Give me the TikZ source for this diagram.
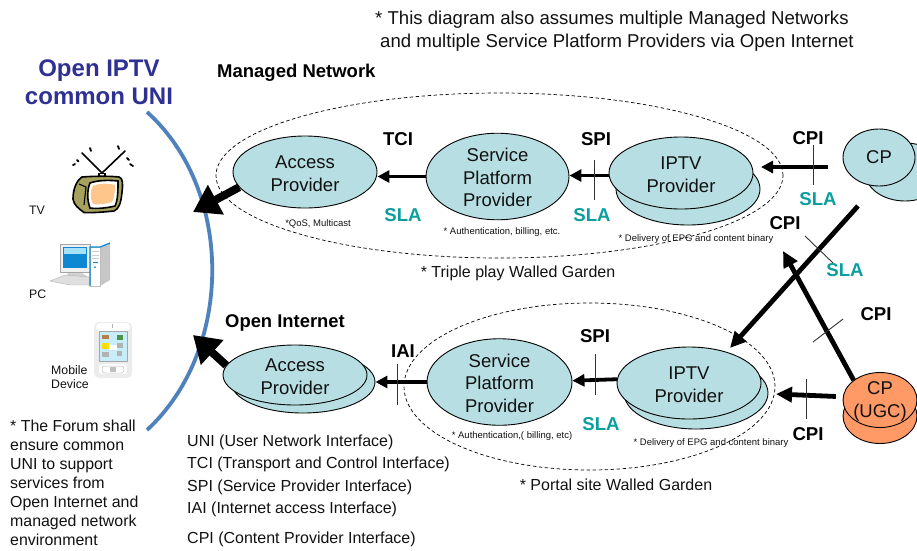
\documentclass[tikz,border=0pt]{standalone}
\usepackage{fontspec}
\setmainfont{Liberation Sans}
\usetikzlibrary{arrows.meta,shapes.geometric}
\definecolor{pfill}{HTML}{B7DFE3}
\definecolor{ugcfill}{HTML}{FF9966}
\definecolor{slac}{HTML}{0A9E9E}
\definecolor{titlec}{HTML}{2E3192}
\definecolor{arcc}{HTML}{4F81BD}
\definecolor{txt}{HTML}{111111}
\newcommand{\fsz}[1]{\fontsize{#1}{#1}\selectfont}
\newcommand{\dn}{\rule{0pt}{16pt}}
\tikzset{
  prov/.style={ellipse,draw=black,line width=0.9pt,fill=pfill,inner sep=0pt,align=center,text=txt,
    font=\fontsize{18.5}{22.5}\selectfont},
  orangep/.style={prov,fill=ugcfill},
  garden/.style={ellipse,draw=black,line width=0.7pt,dash pattern=on 3.5pt off 2.5pt,inner sep=0pt},
  iface/.style={font=\fontsize{18.6}{20}\bfseries\selectfont,text=black,inner sep=0pt},
  sla/.style={iface,text=slac},
  tiny/.style={font=\fsz{9.5},text=txt,inner sep=0pt},
  midtxt/.style={font=\fsz{16},text=txt,inner sep=0pt},
  legend/.style={font=\fsz{16},text=txt,inner sep=0pt,anchor=base west},
  notetxt/.style={font=\fsz{15.9},text=txt,inner sep=0pt,anchor=base west},
  devlabel/.style={font=\fsz{12.3},text=txt,inner sep=0pt,anchor=base west},
  flow/.style={line width=3.8pt,-{Triangle[length=12pt,width=12pt]}},
  heavy/.style={line width=4.8pt,-{Triangle[length=16pt,width=15pt]}},
  huge/.style={line width=8pt,-{Triangle[length=26pt,width=32pt]}},
  tick/.style={line width=0.9pt,black!80},
}
\begin{document}
\begin{tikzpicture}[x=1pt,y=-1pt]
\useasboundingbox (0,0) rectangle (917,550);
% arc
\draw[arcc,line width=3.8pt] (147,112) .. controls (234,190) and (234,350) .. (147,430);
% titles
\node[font=\fontsize{24}{28}\bfseries\selectfont,text=titlec,align=center,inner sep=0pt] (title) at (99,82) {Open IPTV\\common UNI};
\node[font=\fsz{18.5}\bfseries,inner sep=0pt,anchor=base west] (mn) at (217,77) {Managed Network};
\node[font=\fsz{18.4}\bfseries,inner sep=0pt,anchor=base west] (oi) at (225,327) {Open Internet};
\node[font=\fsz{18.6},text=txt,inner sep=0pt,anchor=base west] (n1) at (375,24) {* This diagram also assumes multiple Managed Networks};
\node[font=\fsz{18.6},text=txt,inner sep=0pt,anchor=base west] (n2) at (380,47) {and multiple Service Platform Providers via Open Internet};
% gardens
\node[garden,minimum width=567pt,minimum height=165pt] (g1) at (499.5,175.5) {};
\node[garden,minimum width=371pt,minimum height=167pt] (g2) at (589.5,386.5) {};
% top row
\node[prov,minimum width=144pt,minimum height=72pt] (ap1) at (305,172) {\dn Access\\Provider};
\node[prov,minimum width=143pt,minimum height=80pt] (sp1) at (497.5,176.5) {\dn Service\\Platform\\Provider};
\node[prov,minimum width=144pt,minimum height=72pt] (ip1b) at (688,189) {};
\node[prov,minimum width=144pt,minimum height=72pt] (ip1) at (681,173) {\dn IPTV\\Provider};
\node[prov,minimum width=80pt,minimum height=58pt] (cp1b) at (905,172) {};
\node[prov,minimum width=72pt,minimum height=57pt] (cp1) at (879,157.5) {CP};
% bottom row
\node[prov,minimum width=144pt,minimum height=62pt] (ap2b) at (303,382) {};
\node[prov,minimum width=144pt,minimum height=60pt] (ap2) at (295,375) {\dn Access\\Provider};
\node[prov,minimum width=145pt,minimum height=80pt] (sp2) at (499.5,382) {\dn Service\\Platform\\Provider};
\node[prov,minimum width=144pt,minimum height=72pt] (ip2b) at (696,393) {};
\node[prov,minimum width=144pt,minimum height=72pt] (ip2) at (689,383) {\dn IPTV\\Provider};
\node[orangep,minimum width=74pt,minimum height=55pt] (ugcb) at (880,416) {};
\node[orangep,minimum width=74pt,minimum height=55pt] (ugc) at (880,400) {};
\node[align=center,text=txt,inner sep=0pt,font=\fontsize{18.5}{23}\selectfont] (ugct) at (880,401.5) {CP\\(UGC)};
% free ends
\coordinate (tvtip) at (193,212);
\coordinate (pctip) at (193,335);
\coordinate (cpstart) at (858,206);
\coordinate (ip2tip) at (730,348);
\coordinate (cp1tip) at (783,251);
\coordinate (ugctip) at (776,394);
\coordinate (cptip) at (761,167);
\coordinate (cpend) at (828,167);
% connectors
\draw[huge] (ap1.193) -- (tvtip);
\draw[huge] (ap2.172) -- (pctip);
\draw[flow] (sp1.west) -- (sp1.west -| ap1.east);
\draw[flow] (ip1.182) -- (ip1.182 -| sp1.east);
\draw[flow] (cpend) -- (cptip);
\draw[flow] (sp2.180) -- (sp2.180 -| ap2b.east);
\draw[flow] (ip2.177) -- (sp2.1);
\draw[heavy] (cpstart) -- (ip2tip);
\draw[heavy] (ugc.143) -- (cp1tip);
\draw[heavy,shorten <=7pt] (ugc.175) -- (ugctip);
% ticks
\coordinate (ta1) at (813,145); \coordinate (tb1) at (813,185);
\coordinate (ta2) at (594,160); \coordinate (tb2) at (594,200);
\coordinate (ta3) at (397,364); \coordinate (tb3) at (397,405);
\coordinate (ta4) at (595,354); \coordinate (tb4) at (595,395);
\coordinate (ta5) at (806,379); \coordinate (tb5) at (806,419);
\coordinate (ta6) at (805,236); \coordinate (tb6) at (833,263);
\coordinate (ta7) at (813,342); \coordinate (tb7) at (843,319);
\foreach \i in {1,...,7} \draw[tick] (ta\i) -- (tb\i);
% interface labels
\node[iface] (l1) at (398,139) {TCI};
\node[iface] (l2) at (596,139) {SPI};
\node[iface] (l3) at (808,138) {CPI};
\node[iface] (l4) at (785,223) {CPI};
\node[iface] (l5) at (876,314) {CPI};
\node[iface] (l6) at (808,434) {CPI};
\node[iface] (l7) at (403,351) {IAI};
\node[iface] (l8) at (595,336) {SPI};
\node[sla] (s1) at (403,215) {SLA};
\node[sla] (s2) at (592,215) {SLA};
\node[sla] (s3) at (818,199) {SLA};
\node[sla] (s4) at (845,270) {SLA};
\node[sla] (s5) at (601,424) {SLA};
% small captions
\node[tiny] (c1) at (318,224) {*QoS, Multicast};
\node[tiny] (c2) at (502,232) {* Authentication, billing, etc.};
\node[tiny] (c3) at (696,239) {* Delivery of EPG and content binary};
\node[tiny] (c4) at (512,436) {* Authentication,( billing, etc)};
\node[tiny] (c5) at (711,443) {* Delivery of EPG and content binary};
\node[midtxt] (c6) at (518,273) {* Triple play Walled Garden};
\node[midtxt] (c7) at (616,485) {* Portal site Walled Garden};
% legend
\node[legend] (k1) at (187,446) {UNI (User Network Interface)};
\node[legend] (k2) at (187,468) {TCI (Transport and Control Interface)};
\node[legend] (k3) at (187,491) {SPI (Service Provider Interface)};
\node[legend] (k4) at (187,513) {IAI (Internet access Interface)};
\node[legend] (k5) at (187,543) {CPI (Content Provider Interface)};
% left note
\node[notetxt] (m1) at (10,431) {* The Forum shall};
\node[notetxt] (m2) at (10,450) {ensure common};
\node[notetxt] (m3) at (10,469) {UNI to support};
\node[notetxt] (m4) at (10,488) {services from};
\node[notetxt] (m5) at (10,507) {Open Internet and};
\node[notetxt] (m6) at (10,526) {managed network};
\node[notetxt] (m7) at (10,545) {environment};
% device labels
\node[devlabel] (d1) at (29,214) {TV};
\node[devlabel] (d2) at (29,298) {PC};
\node[devlabel] (d3) at (51,374) {Mobile};
\node[devlabel] (d4) at (51,388) {Device};
% TV icon
\draw[line width=1.6pt,line cap=round] (102,173) -- (82,153) (102,173) -- (125,151);
\draw[line width=1.8pt,line cap=round] (73,165) -- (75,164) (77,160) -- (78.5,161.5) (90,148) -- (91,151)
  (118,146) -- (119,149) (127,158) -- (129,160) (130,164) -- (133,166);
\fill[black] (98.5,173) rectangle (105.5,178.5);
\draw[line width=1.5pt,fill=white] (99,173.5) rectangle (105,178);
\draw[line width=1.6pt,fill=olive!55!gray!80!white] (82,177) .. controls (95,176) and (110,176) .. (119,177)
  .. controls (123,178) and (123,184) .. (122,192) .. controls (121,203) and (119,209) .. (114,211)
  .. controls (104,212) and (93,213) .. (84,212.5) .. controls (78,208) and (74,205) .. (73,199)
  .. controls (73,190) and (76,181) .. (82,177) -- cycle;
\draw[line width=1.6pt,fill=white] (90,183) .. controls (98,180) and (110,180) .. (118,181)
  .. controls (118,190) and (118,200) .. (115,206) .. controls (107,208) and (97,209) .. (90,208)
  .. controls (87,200) and (87,190) .. (90,183) -- cycle;
\fill[orange!45!white] (93,186) .. controls (100,183) and (108,183) .. (115,185)
  .. controls (115,192) and (114,198) .. (112,202) .. controls (106,204) and (98,205) .. (93,204)
  .. controls (90,198) and (90,191) .. (93,186) -- cycle;
\draw[line width=1.1pt] (79,184) -- (86,187) -- (84,205);
% PC icon
\fill[gray!12] (60,244) rectangle (90,272);
\draw[gray!70,line width=0.5pt] (60,244) rectangle (90,272);
\fill[cyan!70!blue] (63,247) rectangle (87,268);
\fill[cyan!35!white] (64,248) rectangle (86,254);
\fill[gray!35] (68,273) -- (82,273) -- (88,277) -- (66,277) -- cycle;
\fill[gray!25,draw=gray!60,line width=0.4pt] (50,281) -- (65,275) -- (90,277) -- (89,285) -- (70,285) -- cycle;
\fill[gray!45] (100,247) -- (110,243) -- (110,280) -- (100,286) -- cycle;
\fill[white,draw=gray!50,line width=0.4pt] (90,247) -- (100,247) -- (100,286) -- (90,286) -- cycle;
\draw[cyan!70!blue,line width=1.2pt] (90,286) -- (90,247) -- (100,247) -- (110,243);
\draw[cyan!70!blue,line width=0.8pt] (93,262) -- (98,262);
\fill[cyan!70!blue] (95,267) circle (1pt);
\draw[gray!40,line width=0.4pt] (92,251) -- (99,251) (92,255) -- (99,255) (92,258) -- (99,258);
% mobile icon
\fill[gray!15,rounded corners=5pt] (94,322) rectangle (132,378);
\fill[white,rounded corners=4pt] (96,323) rectangle (130,331);
\fill[gray!60] (112,324) rectangle (113,328);
\fill[gray!70] (98.5,330.5) rectangle (127.5,361.5);
\fill[cyan!22!white] (99.5,331.5) rectangle (126.5,360.5);
\fill[orange!40!gray] (102,335) rectangle (109,339);
\fill[green!40!black!70] (117,335) rectangle (123,340);
\fill[yellow!80!orange] (102,343) rectangle (109,349);
\fill[white] (109,345) rectangle (117,350);
\fill[gray!60] (117,343) rectangle (123,348);
\fill[gray!60] (102,352) rectangle (109,357);
\fill[gray!60] (117,351) rectangle (122,356);
\fill[white,rounded corners=3pt] (99,364) rectangle (127,374);
\draw[gray!50,line width=0.5pt,rounded corners=3pt] (102,366) rectangle (124,373);
\fill[gray!50] (110,367) rectangle (116,372);
\end{tikzpicture}
\end{document}
